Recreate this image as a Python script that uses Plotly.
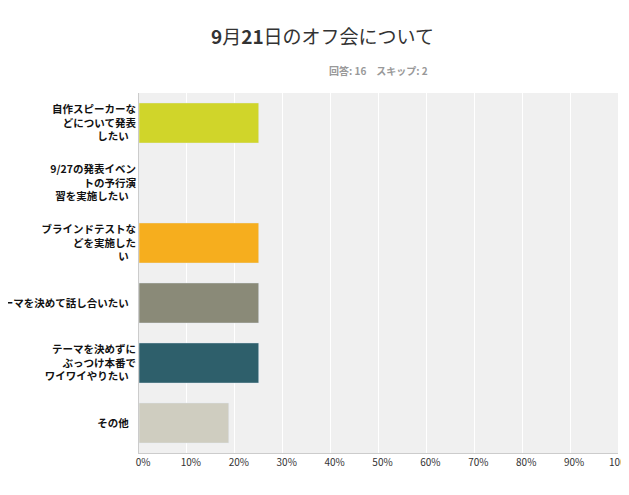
import plotly.graph_objects as go

categories = [
    "自作スピーカーな<br>どについて発表<br>したい",
    "9/27の発表イベン<br>トの予行演<br>習を実施したい",
    "ブラインドテストな<br>どを実施した<br>い",
    "テーマを決めて話し合いたい",
    "テーマを決めずに<br>ぶっつけ本番で<br>ワイワイやりたい",
    "その他",
]
values = [25, 0, 25, 25, 25, 18.75]
colors = ["#d0d52a", "#6fa8d6", "#f6ae1e", "#8a8a78", "#2e5f6b", "#cfcdc0"]
tick_vals = list(range(0, 101, 10))
tick_text = [f"{v}%" for v in tick_vals]

fig = go.Figure(
    go.Bar(
        y=categories,
        x=values,
        orientation="h",
        marker_color=colors,
        width=0.67,
        hoverinfo="x+y",
    )
)
fig.update_layout(
    width=629,
    height=495,
    paper_bgcolor="white",
    plot_bgcolor="#f0f0f0",
    margin=dict(l=131, r=19, t=85, b=50),
    font=dict(family="Noto Sans CJK JP", size=10, color="#333333"),
    title=dict(
        text="<b>9</b>月<b>21</b>日のオフ会について",
        x=0.5,
        xanchor="center",
        y=0.955,
        font=dict(size=19, color="#333333"),
    ),
    annotations=[
        dict(
            text="<b>回答: 16　スキップ: 2</b>",
            xref="paper",
            yref="paper",
            x=0.5,
            y=1.09,
            xanchor="center",
            showarrow=False,
            font=dict(size=10, color="#999999"),
        )
    ],
    showlegend=False,
)
fig.update_xaxes(
    range=[0, 100],
    tickvals=tick_vals,
    ticktext=tick_text,
    gridcolor="white",
    gridwidth=1,
    showline=True,
    linecolor="#cccccc",
    zeroline=False,
    automargin=False,
    ticklabelshift=4,
    tickfont=dict(size=10, color="#333333"),
)
fig.update_yaxes(
    autorange="reversed",
    showline=True,
    linecolor="#cccccc",
    automargin=False,
    tickfont=dict(size=10.5, color="#111111", weight="bold"),
    ticksuffix="   ",
)
fig.write_html("out.html")
